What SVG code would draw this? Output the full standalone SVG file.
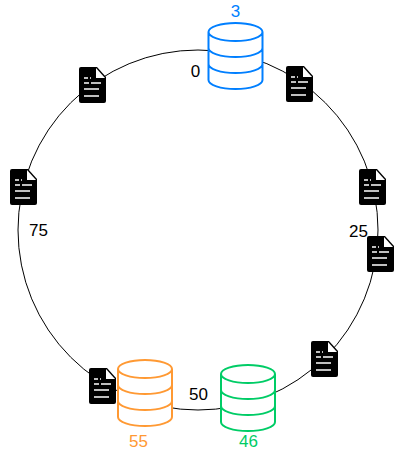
<svg xmlns="http://www.w3.org/2000/svg" width="405" height="451" viewBox="0 0 405 451">
<style>
text{font-family:"Liberation Sans",Arial,sans-serif;font-size:17px;text-anchor:middle;fill:#000}
.ring{fill:none;stroke:#000;stroke-width:1}
.line{stroke:#fff;stroke-width:1.5;fill:none}
</style>
<defs>
<g id="doc">
<path d="M2 0H18L27 10V34Q27 36 25 36H2Q0 36 0 34V2Q0 0 2 0Z" fill="#000"/>
<path d="M17 1L26 11H17Z" fill="#fff"/>
<path class="line" d="M5 11H9M11 11H12M5 16H10M12 16H22M5 22H20M5 29H20"/>
</g>
<g id="cyl">
<path d="M0 9A27 9 0 0 1 54 9V57A27 9 0 0 1 0 57Z" fill="#fff" stroke="none"/>
<path d="M0 9A27 9 0 0 1 54 9A27 9 0 0 1 0 9ZM0 9V57A27 9 0 0 0 54 57V9M0 25A27 9 0 0 0 54 25M0 41A27 9 0 0 0 54 41" fill="none" stroke-width="2"/>
</g>
</defs>
<g id="connectors"><circle class="ring" cx="198" cy="230" r="180"/></g>
<g id="db-3" stroke="#007fff"><use href="#cyl" x="208.500" y="23"/><text x="235.500" y="17" stroke="none" style="fill:#007fff">3</text></g>
<g id="db-55" stroke="#ff9933"><use href="#cyl" x="118" y="360"/><text x="138.500" y="447" stroke="none" style="fill:#ff9933">55</text></g>
<g id="db-46" stroke="#00cc66"><use href="#cyl" x="221" y="365"/><text x="248.500" y="447" stroke="none" style="fill:#00cc66">46</text></g>
<g id="doc-1"><use href="#doc" x="286" y="66"/></g>
<g id="doc-2"><use href="#doc" x="359" y="169"/></g>
<g id="doc-3"><use href="#doc" x="367" y="236"/></g>
<g id="doc-4"><use href="#doc" x="311" y="341"/></g>
<g id="doc-5"><use href="#doc" x="89" y="368"/></g>
<g id="doc-6"><use href="#doc" x="10" y="169"/></g>
<g id="doc-7"><use href="#doc" x="79" y="67"/></g>
<g id="labels">
<text x="195.500" y="77">0</text>
<text x="358.500" y="237">25</text>
<text x="198.500" y="400">50</text>
<text x="38.500" y="236">75</text>
</g>
</svg>
